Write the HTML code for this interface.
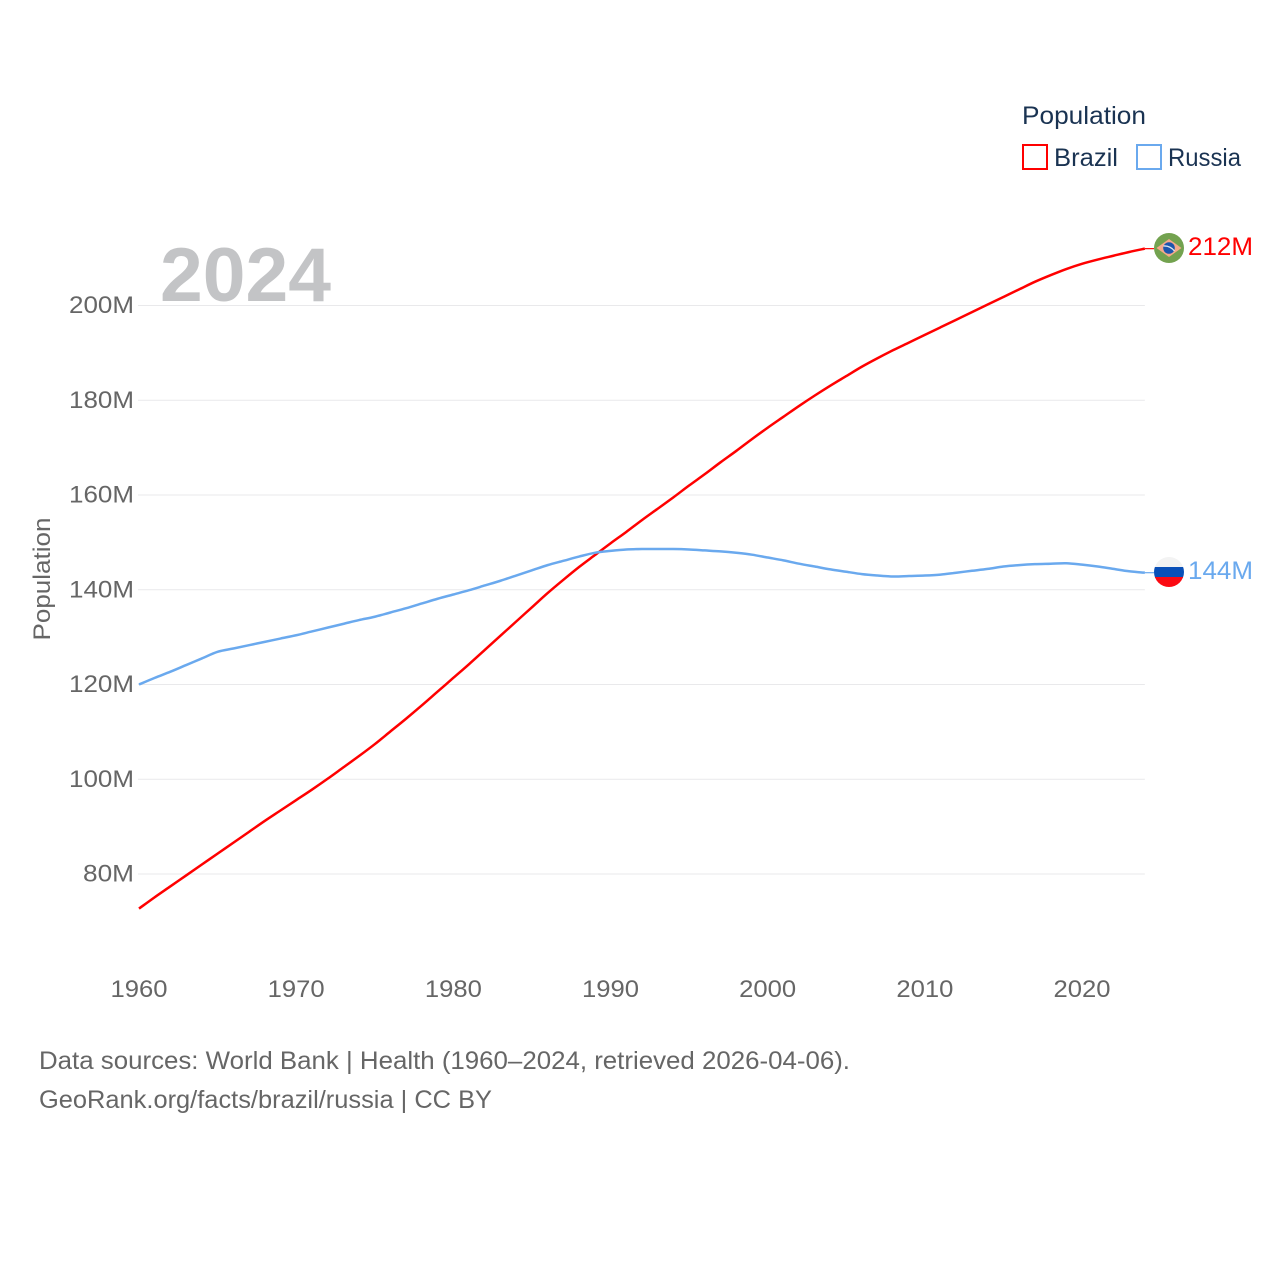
<!DOCTYPE html>
<html lang="en">
<head>
<meta charset="utf-8">
<title>Population: Brazil vs Russia</title>
<style>
html,body{margin:0;padding:0;background:#fff;width:1280px;height:1280px;overflow:hidden}
svg{display:block}
text{font-family:"Liberation Sans",sans-serif}
</style>
</head>
<body>
<svg id="chart" xmlns="http://www.w3.org/2000/svg" width="1280" height="1280" viewBox="0 0 1280 1280">
  <rect x="0" y="0" width="1280" height="1280" fill="#ffffff"/>
  <g id="grid"></g>
  <g id="yticks"></g>
  <g id="xticks"></g>
  <text x="160" y="301" font-size="76" font-weight="700" fill="#c3c4c6" textLength="171" lengthAdjust="spacingAndGlyphs">2024</text>
  <text transform="translate(50,579) rotate(-90)" text-anchor="middle" font-size="24" fill="#666666" textLength="123" lengthAdjust="spacingAndGlyphs">Population</text>
  <g id="series"></g>

  <g>
    <text x="1022" y="124" font-size="25" fill="#1a3352" textLength="124" lengthAdjust="spacingAndGlyphs">Population</text>
    <rect x="1023" y="145" width="24" height="24" fill="#ffffff" stroke="#ff0000" stroke-width="2"/>
    <text x="1054" y="166" font-size="25" fill="#1a3352" textLength="64" lengthAdjust="spacingAndGlyphs">Brazil</text>
    <rect x="1137" y="145" width="24" height="24" fill="#ffffff" stroke="#6aa9ee" stroke-width="2"/>
    <text x="1168" y="166" font-size="25" fill="#1a3352" textLength="73" lengthAdjust="spacingAndGlyphs">Russia</text>
  </g>

  <defs>
    <clipPath id="clip-br"><circle cx="1169" cy="248" r="15"/></clipPath>
    <clipPath id="clip-ru"><circle cx="1169" cy="572" r="15"/></clipPath>
  </defs>
  <g id="flag-br" clip-path="url(#clip-br)">
    <rect x="1154" y="233" width="30" height="30" fill="#73a24f"/>
    <polygon points="1156.5,248 1169,239 1181.5,248 1169,257" fill="#f5a98a"/>
    <circle cx="1169" cy="248" r="5.8" fill="#1d55ad"/>
    <path d="M1163.5,246 Q1170,245.5 1174.5,251" stroke="#dfe6ee" stroke-width="1.3" fill="none"/>
  </g>
  <g id="flag-ru" clip-path="url(#clip-ru)">
    <rect x="1154" y="557" width="30" height="10" fill="#f3f3f3"/>
    <rect x="1154" y="567" width="30" height="11" fill="#0a50b8"/>
    <rect x="1154" y="577" width="30" height="10" fill="#fb0a12"/>
  </g>
  <text id="label-br" x="1188" y="255" font-size="25" fill="#ff0000" textLength="65" lengthAdjust="spacingAndGlyphs">212M</text>
  <text id="label-ru" x="1188" y="579" font-size="25" fill="#6aa9ee" textLength="65" lengthAdjust="spacingAndGlyphs">144M</text>

  <g>
    <text x="39" y="1069" font-size="25" fill="#666666" textLength="811" lengthAdjust="spacingAndGlyphs">Data sources: World Bank | Health (1960–2024, retrieved 2026-04-06).</text>
    <text x="39" y="1108" font-size="25" fill="#666666" textLength="453" lengthAdjust="spacingAndGlyphs">GeoRank.org/facts/brazil/russia | CC BY</text>
  </g>
</svg>

<script>
const firstYear = 1960;
const brazilValues = [
  72.7,75.1,77.4,79.7,82.0,84.3,86.6,88.9,91.2,93.4,
  95.6,97.8,100.1,102.5,104.9,107.4,110.1,112.8,115.6,118.5,
  121.4,124.3,127.3,130.3,133.3,136.3,139.3,142.1,144.8,147.3,
  149.8,152.2,154.7,157.1,159.5,162.0,164.4,166.9,169.3,171.8,
  174.2,176.5,178.8,181.0,183.1,185.1,187.1,188.9,190.6,192.2,
  193.8,195.4,197.0,198.6,200.2,201.8,203.4,205.0,206.4,207.7,
  208.8,209.7,210.5,211.3,212.0
];
const russiaValues = [
  120.0,121.4,122.7,124.1,125.5,126.9,127.6,128.3,129.0,129.7,
  130.4,131.2,132.0,132.8,133.6,134.3,135.2,136.1,137.1,138.1,
  139.0,139.9,140.9,141.9,143.0,144.1,145.2,146.1,147.0,147.8,
  148.2,148.5,148.6,148.6,148.6,148.5,148.3,148.1,147.8,147.4,
  146.8,146.2,145.5,144.9,144.3,143.8,143.3,143.0,142.8,142.9,
  143.0,143.2,143.6,144.0,144.4,144.9,145.2,145.4,145.5,145.6,
  145.3,144.9,144.4,143.9,143.6
];
const yTickValues = [80,100,120,140,160,180,200];
const yTickLabels = ["80M","100M","120M","140M","160M","180M","200M"];
const xTickYears = [1960,1970,1980,1990,2000,2010,2020];
const SVG_NS = "http://www.w3.org/2000/svg";

function xScale(year){ return 139 + (year - 1960) * (943 / 60); }
function yScale(v){ return 874 - (v - 80) * (568.5 / 120); }

const gridG = document.getElementById("grid");
const yG = document.getElementById("yticks");
const xG = document.getElementById("xticks");
const seriesG = document.getElementById("series");

yTickValues.forEach(function(v, i){
  const y = yScale(v);
  const line = document.createElementNS(SVG_NS, "line");
  
  
  line.setAttribute("x1", 138);
  line.setAttribute("x2", xScale(2024));
  line.setAttribute("y1", y);
  line.setAttribute("y2", y);
  line.setAttribute("stroke", "#e9e9eb");
  line.setAttribute("stroke-width", "1");
  gridG.appendChild(line);

  const t = document.createElementNS(SVG_NS, "text");
  
  
  t.setAttribute("x", 134);
  t.setAttribute("y", y + 7.5);
  t.setAttribute("text-anchor", "end");
  t.setAttribute("font-size", "24");
  t.setAttribute("fill", "#666666");
  t.setAttribute("textLength", yTickLabels[i].length === 3 ? 51 : 65);
  t.setAttribute("lengthAdjust", "spacingAndGlyphs");
  t.textContent = yTickLabels[i];
  yG.appendChild(t);
});

xTickYears.forEach(function(year){
  const t = document.createElementNS(SVG_NS, "text");
  
  
  t.setAttribute("x", xScale(year));
  t.setAttribute("y", 997);
  t.setAttribute("text-anchor", "middle");
  t.setAttribute("font-size", "24");
  t.setAttribute("fill", "#666666");
  t.setAttribute("textLength", 57);
  t.setAttribute("lengthAdjust", "spacingAndGlyphs");
  t.textContent = year;
  xG.appendChild(t);
});

function smoothPath(values){
  const pts = values.map(function(v, i){
    return [xScale(firstYear + i), yScale(v)];
  });
  let d = "M" + pts[0][0].toFixed(2) + "," + pts[0][1].toFixed(2);
  for (let i = 0; i < pts.length - 1; i++) {
    const p0 = pts[Math.max(i - 1, 0)];
    const p1 = pts[i];
    const p2 = pts[i + 1];
    const p3 = pts[Math.min(i + 2, pts.length - 1)];
    const c1x = p1[0] + (p2[0] - p0[0]) / 6;
    const c1y = p1[1] + (p2[1] - p0[1]) / 6;
    const c2x = p2[0] - (p3[0] - p1[0]) / 6;
    const c2y = p2[1] - (p3[1] - p1[1]) / 6;
    d += "C" + c1x.toFixed(2) + "," + c1y.toFixed(2) + " " + c2x.toFixed(2) + "," + c2y.toFixed(2) + " " + p2[0].toFixed(2) + "," + p2[1].toFixed(2);
  }
  return d;
}

const brazilLine = document.createElementNS(SVG_NS, "path");


brazilLine.setAttribute("d", smoothPath(brazilValues));
brazilLine.setAttribute("fill", "none");
brazilLine.setAttribute("stroke", "#ff0000");
brazilLine.setAttribute("stroke-width", "2.5");
brazilLine.setAttribute("stroke-linejoin", "round");
seriesG.appendChild(brazilLine);

const russiaLine = document.createElementNS(SVG_NS, "path");


russiaLine.setAttribute("d", smoothPath(russiaValues));
russiaLine.setAttribute("fill", "none");
russiaLine.setAttribute("stroke", "#6aa9ee");
russiaLine.setAttribute("stroke-width", "2.5");
russiaLine.setAttribute("stroke-linejoin", "round");
seriesG.appendChild(russiaLine);

const brazilConnector = document.createElementNS(SVG_NS, "line");


brazilConnector.setAttribute("x1", xScale(2024));
brazilConnector.setAttribute("x2", 1154);
brazilConnector.setAttribute("y1", yScale(brazilValues[brazilValues.length - 1]));
brazilConnector.setAttribute("y2", yScale(brazilValues[brazilValues.length - 1]));
brazilConnector.setAttribute("stroke", "#ff0000");
brazilConnector.setAttribute("stroke-width", "1.2");
seriesG.appendChild(brazilConnector);

const russiaConnector = document.createElementNS(SVG_NS, "line");


russiaConnector.setAttribute("x1", xScale(2024));
russiaConnector.setAttribute("x2", 1154);
russiaConnector.setAttribute("y1", yScale(russiaValues[russiaValues.length - 1]));
russiaConnector.setAttribute("y2", yScale(russiaValues[russiaValues.length - 1]));
russiaConnector.setAttribute("stroke", "#6aa9ee");
russiaConnector.setAttribute("stroke-width", "1.2");
seriesG.appendChild(russiaConnector);
</script>
</body>
</html>
